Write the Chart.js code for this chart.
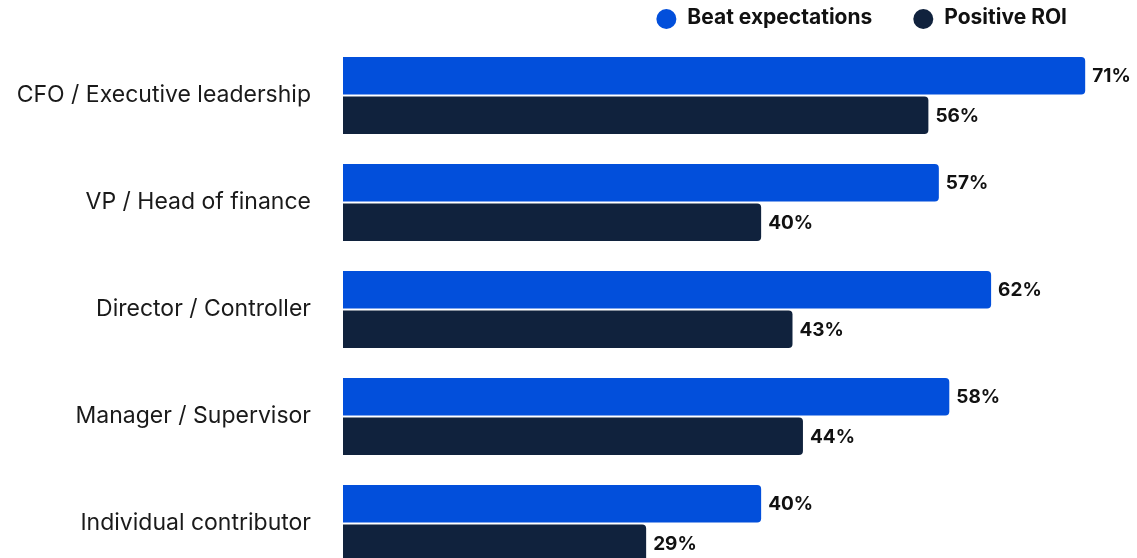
<!DOCTYPE html>
<html>
<head>
<meta charset="utf-8">
<script src="https://cdn.jsdelivr.net/npm/chart.js@4"></script>
<style>
  html, body { margin: 0; padding: 0; background: #ffffff; overflow: hidden; }
  #wrap { position: relative; width: 1137px; height: 580px; }
</style>
</head>
<body>
<div id="wrap"><canvas id="c"></canvas></div>
<script>
const categories = ['CFO / Executive leadership', 'VP / Head of finance', 'Director / Controller', 'Manager / Supervisor', 'Individual contributor'];
const seriesNames = ['Beat expectations', 'Positive ROI'];
const beatExpectations = [71, 57, 62, 58, 40];
const positiveROI = [56, 40, 43, 44, 29];
const seriesColors = ['#024fdb', '#10223d'];

const FONT = 'Inter, "Noto Sans", sans-serif';

const valueLabels = {
  id: 'valueLabels',
  afterDatasetsDraw(chart) {
    const ctx = chart.ctx;
    ctx.save();
    ctx.font = 'bold 19px ' + FONT;
    ctx.fillStyle = '#111111';
    ctx.textAlign = 'left';
    ctx.textBaseline = 'middle';
    chart.data.datasets.forEach((ds, i) => {
      const meta = chart.getDatasetMeta(i);
      meta.data.forEach((el, j) => {
        ctx.fillText(ds.data[j] + '%', el.x + 7, el.y + 1);
      });
    });
    ctx.restore();
  }
};

const topLegend = {
  id: 'topLegend',
  afterDraw(chart) {
    const ctx = chart.ctx;
    ctx.save();
    ctx.font = 'bold 21px ' + FONT;
    ctx.textBaseline = 'middle';
    ctx.textAlign = 'left';
    const r = 10, textOff = 21, itemGap = 41, y = 18;
    const ds = chart.data.datasets;
    let x = 1067;
    const items = [];
    for (let i = ds.length - 1; i >= 0; i--) {
      const w = ctx.measureText(ds[i].label).width;
      const textX = x - w;
      const cx = textX - textOff;
      items.push({ i, textX, cx });
      x = cx - r - itemGap;
    }
    items.forEach(it => {
      ctx.fillStyle = ds[it.i].backgroundColor;
      ctx.beginPath();
      ctx.arc(it.cx, y + 1, r, 0, Math.PI * 2);
      ctx.fill();
      ctx.fillStyle = '#111111';
      ctx.fillText(ds[it.i].label, it.textX, y);
    });
    ctx.restore();
  }
};

new Chart(document.getElementById('c'), {
  type: 'bar',
  data: {
    labels: categories,
    datasets: [
      { label: seriesNames[0], data: beatExpectations, backgroundColor: seriesColors[0] },
      { label: seriesNames[1], data: positiveROI, backgroundColor: seriesColors[1] }
    ]
  },
  options: {
    indexAxis: 'y',
    responsive: true,
    maintainAspectRatio: false,
    animation: false,
    devicePixelRatio: 1,
    layout: { autoPadding: false, padding: { top: 42, right: 10, bottom: 3, left: 0 } },
    datasets: {
      bar: {
        categoryPercentage: 0.738,
        barPercentage: 0.95,
        borderRadius: 4,
        borderSkipped: 'start'
      }
    },
    scales: {
      x: { display: false, min: 0, max: 75 },
      y: {
        grid: { display: false, drawTicks: false },
        border: { display: false },
        ticks: {
          padding: 32,
          color: '#1a1a1a',
          font: { family: FONT, size: 23 }
        },
        afterFit(scale) {
          scale.width = 343;
          scale.paddingTop = 0;
          scale.paddingBottom = 0;
        }
      }
    },
    plugins: {
      legend: { display: false },
      tooltip: { enabled: false }
    }
  },
  plugins: [valueLabels, topLegend]
});
</script>
</body>
</html>
